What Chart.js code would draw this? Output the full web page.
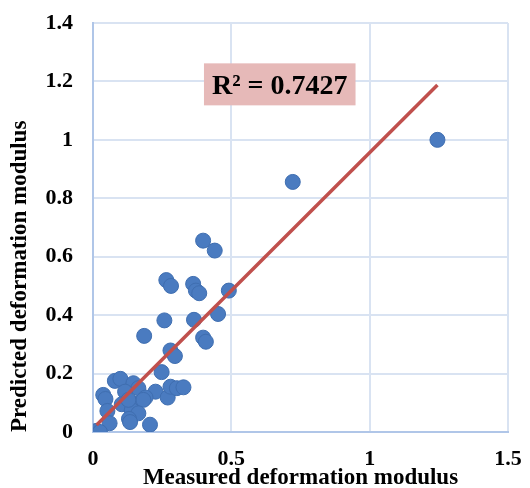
<!DOCTYPE html>
<html>
<head>
<meta charset="utf-8">
<title>Measured vs predicted deformation modulus</title>
<script src="https://cdn.jsdelivr.net/npm/chart.js@4.4.1/dist/chart.umd.min.js"></script>
<style>
    html, body { margin: 0; padding: 0; background: #fff; }
    #wrap { width: 530px; height: 488px; position: relative; }
</style>
</head>
<body>
<div id="wrap"><canvas id="scatter-chart"></canvas></div>
<script>
// Values
const measured = [
    1.245, 0.722, 0.398, 0.440, 0.265, 0.282, 0.362, 0.372, 0.384, 0.491,
    0.452, 0.365, 0.258, 0.185, 0.398, 0.408, 0.280, 0.296, 0.248, 0.079,
    0.099, 0.146, 0.164, 0.116, 0.226, 0.037, 0.045, 0.190, 0.270, 0.280,
    0.303, 0.327, 0.104, 0.146, 0.182, 0.052, 0.140, 0.164, 0.130, 0.060,
    0.134, 0.206, 0.013, 0.025, 0.128
];
const predicted = [
    1.000, 0.856, 0.655, 0.621, 0.520, 0.500, 0.507, 0.484, 0.475, 0.484,
    0.404, 0.384, 0.382, 0.329, 0.323, 0.309, 0.279, 0.260, 0.205, 0.175,
    0.182, 0.167, 0.150, 0.138, 0.138, 0.127, 0.113, 0.118, 0.118, 0.155,
    0.150, 0.153, 0.095, 0.098, 0.110, 0.072, 0.075, 0.064, 0.045, 0.030,
    0.034, 0.025, 0.004, 0.000, 0.110
];

// Linear trend line end points
const trendX = [0.013, 1.245];
const trendY = [0.024, 1.188];

const rSquaredText = 'R² = 0.7427';
const rSquaredAt = { x: 0.675, y: 1.19 };

const xTickLabels = ['0', '0.5', '1', '1.5'];
const yTickLabels = ['0', '0.2', '0.4', '0.6', '0.8', '1', '1.2', '1.4'];

const serif = '"Liberation Serif", "Times New Roman", serif';

// Draws the R² box like the Excel label
const rSquaredLabel = {
    id: 'rSquaredLabel',
    afterDatasetsDraw: function(chart) {
        const ctx = chart.ctx;
        const cx = chart.scales.x.getPixelForValue(rSquaredAt.x);
        const cy = chart.scales.y.getPixelForValue(rSquaredAt.y);
        ctx.save();
        ctx.font = 'bold 28px ' + serif;
        const w = ctx.measureText(rSquaredText).width + 16;
        const h = 42;
        ctx.fillStyle = '#e6b9b8';
        ctx.fillRect(cx - w / 2, cy - h / 2, w, h);
        ctx.fillStyle = '#000';
        ctx.textAlign = 'center';
        ctx.textBaseline = 'middle';
        ctx.fillText(rSquaredText, cx, cy + 2);
        ctx.restore();
    }
};

const points = measured.map((m, i) => ({ x: m, y: predicted[i] }));
const trend = trendX.map((t, i) => ({ x: t, y: trendY[i] }));

new Chart(document.getElementById('scatter-chart'), {
    type: 'scatter',
    data: {
        datasets: [{
            type: 'line',
            label: 'Trend',
            data: trend,
            borderColor: '#c0504d',
            borderWidth: 3.5,
            pointRadius: 0,
            fill: false,
            order: 0
        }, {
            label: 'Data',
            data: points,
            backgroundColor: '#4a7bc0',
            borderColor: '#3f6eb0',
            borderWidth: 1,
            pointRadius: 7.5,
            order: 1
        }]
    },
    options: {
        responsive: true,
        maintainAspectRatio: false,
        animation: false,
        layout: {
            padding: { top: 23, right: 22, left: 0, bottom: 0 }
        },
        scales: {
            x: {
                type: 'linear',
                min: 0,
                max: 1.5,
                afterFit: function(scale) {
                    scale.height = 56;
                    scale.paddingLeft = 0;
                    scale.paddingRight = 0;
                },
                ticks: {
                    stepSize: 0.5,
                    padding: 14,
                    color: '#000',
                    font: { family: serif, size: 22, weight: 'bold' },
                    callback: function(value, index) { return xTickLabels[index]; }
                },
                grid: { color: '#d9e3f2', lineWidth: 2, drawTicks: false },
                border: { color: '#b0c6e8', width: 2 },
                title: {
                    display: true,
                    text: 'Measured deformation modulus',
                    color: '#000',
                    padding: 0,
                    font: { family: serif, size: 23, weight: 'bold', lineHeight: 0.9 }
                }
            },
            y: {
                type: 'linear',
                min: 0,
                max: 1.4,
                afterFit: function(scale) {
                    scale.width = 93;
                    scale.paddingTop = 0;
                    scale.paddingBottom = 0;
                },
                ticks: {
                    stepSize: 0.2,
                    padding: 20,
                    color: '#000',
                    font: { family: serif, size: 22, weight: 'bold' },
                    callback: function(value, index) { return yTickLabels[index]; }
                },
                grid: { color: '#d9e3f2', lineWidth: 2, drawTicks: false },
                border: { color: '#b0c6e8', width: 2 },
                title: {
                    display: true,
                    text: 'Predicted deformation modulus',
                    align: 'start',
                    color: '#000',
                    padding: { top: 6 },
                    font: { family: serif, size: 23, weight: 'bold' }
                }
            }
        },
        plugins: {
            legend: { display: false },
            tooltip: { enabled: false }
        }
    },
    plugins: [rSquaredLabel]
});
</script>
</body>
</html>
